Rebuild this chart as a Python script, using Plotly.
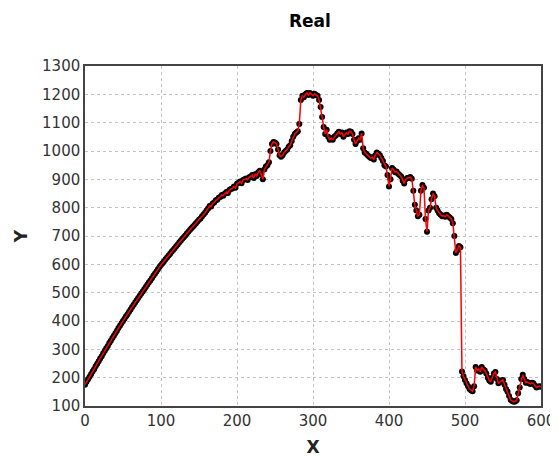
import plotly.graph_objects as go

x_vals = list(range(0, 601, 2))
y_vals = [
    175, 186, 194, 203, 212, 222, 230, 240, 249, 258,
    268, 276, 286, 295, 304, 312, 322, 330, 340, 348,
    357, 366, 375, 383, 392, 400, 408, 417, 424, 433,
    441, 449, 457, 465, 473, 481, 489, 497, 504, 512,
    520, 528, 536, 543, 551, 560, 567, 575, 583, 591,
    598,
    604, 611, 618, 624, 631, 637, 644, 651, 657, 664,
    670, 677, 683, 690, 696, 702, 709, 715, 721, 727,
    733, 739, 745, 751, 757, 762, 770, 776, 782, 790,
    797, 806, 804, 815, 818, 826, 828, 835, 838, 845,
    842, 850, 855, 852, 862, 866, 868, 875, 870, 884,
    888, 892, 886, 898, 900, 903, 898, 907, 910, 915,
    905, 918, 912, 925, 930, 918, 900, 935, 945, 950,
    960, 1000, 1025, 1032, 1030, 1025, 1005, 985, 980, 985,
    995, 1000, 1005, 1015, 1020, 1035, 1050, 1060, 1065, 1070,
    1095, 1180, 1195, 1190, 1200, 1205, 1198, 1205, 1200, 1195,
    1202, 1198, 1195, 1180, 1155, 1120, 1085, 1060, 1075, 1050,
    1040, 1045, 1040, 1050, 1055, 1062, 1068, 1060, 1065, 1050,
    1058, 1065, 1060, 1070, 1068, 1060, 1040, 1025, 1035, 1045,
    1040, 1062, 1010, 995, 990, 985, 980, 975, 978, 970,
    985, 995, 990, 985, 975, 965, 950, 945, 915, 875,
    900, 940, 935, 925, 928, 920, 915, 910, 895, 885,
    900, 905, 905, 908, 902, 860, 810, 790, 770, 775,
    860, 880, 870, 760, 715, 790, 800, 830, 850, 840,
    800, 790, 780, 775, 770, 772, 768, 775, 770, 765,
    760, 745, 700, 640, 650, 665, 660, 222, 205, 192,
    180, 170, 160, 155, 152, 170, 238, 225, 230, 221,
    238, 230, 225, 215, 200, 190, 186, 200, 215, 220,
    195, 180, 185, 190, 192, 175, 160, 150, 135, 122,
    118, 115, 116, 120, 145, 165, 195, 210, 195, 182,
    185, 180, 178, 182, 180, 172, 165, 168, 170, 168,
]
assert len(x_vals) == len(y_vals), (len(x_vals), len(y_vals))

x_ticks = [0, 100, 200, 300, 400, 500, 600]
y_ticks = [100, 200, 300, 400, 500, 600, 700, 800, 900, 1000, 1100, 1200, 1300]

fig = go.Figure()
fig.add_trace(go.Scatter(x=x_vals, y=y_vals, mode="markers",
                         marker=dict(color="black", size=6), showlegend=False))
fig.add_trace(go.Scatter(x=x_vals, y=y_vals, mode="lines",
                         line=dict(color="red", width=1.5), showlegend=False))

axis_font = dict(family="DejaVu Sans", size=15, color="#333333")
title_font = dict(family="DejaVu Sans", size=17, color="#222222")
fig.update_layout(
    width=550, height=449,
    margin=dict(l=77, r=17, t=58, b=51),
    paper_bgcolor="white", plot_bgcolor="white",
    title=dict(text="<b>Real</b>", x=0.549, xanchor="center", y=0.972, yanchor="middle",
               font=dict(family="DejaVu Sans", size=17, color="black")),
    xaxis=dict(range=[0, 600], tickvals=x_ticks, ticktext=[str(v) for v in x_ticks],
               showgrid=True, gridcolor="#c4c4c4", griddash="3px,3px", gridwidth=1,
               showline=True, linecolor="#444444", linewidth=1.5, mirror=True,
               zeroline=False, ticks="", tickfont=axis_font, automargin=False,
               title=dict(text="<b>X</b>", font=title_font, standoff=12)),
    yaxis=dict(range=[100, 1300], tickvals=y_ticks, ticktext=[str(v) for v in y_ticks],
               showgrid=True, gridcolor="#c4c4c4", griddash="3px,3px", gridwidth=1,
               showline=True, linecolor="#444444", linewidth=1.5, mirror=True,
               zeroline=False, ticks="", tickfont=axis_font, automargin=False,
               title=dict(text="<b>Y</b>", font=title_font, standoff=10)),
)

fig.write_html("out.html")
